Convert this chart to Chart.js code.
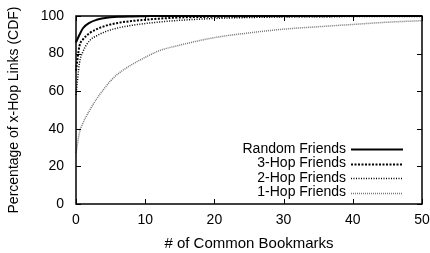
<!DOCTYPE html>
<html>
<head>
<meta charset="utf-8">
<script src="https://cdn.jsdelivr.net/npm/chart.js@4/dist/chart.umd.min.js"></script>
<style>
html,body{margin:0;padding:0;background:#fff;}
#wrap{width:430px;height:253px;position:relative;}
</style>
</head>
<body>
<div id="wrap"><canvas id="c" width="430" height="253"></canvas></div>
<script>
const xValues = [0, 0.5, 1, 2, 3, 4, 5, 6, 8, 10, 12, 15, 20, 25, 30, 35, 40, 45, 50];
const randomFriends = [86, 90, 93.5, 96.5, 98, 98.8, 99.3, 99.6, 99.8, 99.9, 100, 100, 100, 100, 100, 100, 100, 100, 100];
const hop3Friends = [71, 84, 87.5, 91, 93, 94.5, 95.5, 96.3, 97.3, 98, 98.6, 99.2, 99.6, 99.8, 99.9, 99.9, 100, 100, 100];
const hop2Friends = [58, 75, 81, 87, 89.5, 91.3, 92.6, 93.6, 95, 96, 96.8, 97.7, 98.7, 99.2, 99.5, 99.6, 99.7, 99.8, 99.8];
const hop1Friends = [27, 38, 43, 50, 56, 61, 65.5, 69, 74, 78, 81.5, 84.5, 88.5, 91, 93, 94.3, 95.5, 96.7, 97.5];
const seriesLabels = ["Random Friends", "3-Hop Friends", "2-Hop Friends", "1-Hop Friends"];
const xTicks = [0, 10, 20, 30, 40, 50];
const yTicks = [0, 20, 40, 60, 80, 100];
const xTitle = "# of Common Bookmarks";
const yTitle = "Percentage of x-Hop Links (CDF)";

const FONT = "'Liberation Sans', Arial, Helvetica, sans-serif";

function pts(ys){ return xValues.map((x,i)=>({x:x, y:ys[i]})); }

const styles = [
  {color:'#000', width:2, dash:[]},
  {color:'#000', width:2, dash:[2,1.5]},
  {color:'#000', width:1.5, dash:[1,1.5]},
  {color:'#777', width:1.5, dash:[1,1]}
];
const allSeries = [randomFriends, hop3Friends, hop2Friends, hop1Friends];

const datasets = allSeries.map((s,i)=>({
  label: seriesLabels[i],
  data: pts(s),
  borderColor: styles[i].color,
  borderWidth: styles[i].width,
  borderDash: styles[i].dash,
  pointRadius: 0,
  fill: false,
  cubicInterpolationMode: 'monotone',
  clip: false
}));

const framePlugin = {
  id: 'frame',
  afterDatasetsDraw(chart){
    const ctx = chart.ctx;
    const a = chart.chartArea;
    const xs = chart.scales.x, ys = chart.scales.y;
    ctx.save();
    ctx.setLineDash([]);
    ctx.strokeStyle = '#000';
    ctx.lineWidth = 1;
    const tl = 5;
    xTicks.forEach(v=>{
      const p = Math.round(xs.getPixelForValue(v)) + 0.5;
      ctx.beginPath();
      ctx.moveTo(p, a.bottom); ctx.lineTo(p, a.bottom - tl);
      ctx.moveTo(p, a.top); ctx.lineTo(p, a.top + tl);
      ctx.stroke();
    });
    yTicks.forEach(v=>{
      const p = Math.round(ys.getPixelForValue(v)) + 0.5;
      ctx.beginPath();
      ctx.moveTo(a.left, p); ctx.lineTo(a.left + tl, p);
      ctx.moveTo(a.right, p); ctx.lineTo(a.right - tl, p);
      ctx.stroke();
    });
    ctx.lineWidth = 1.5;
    ctx.strokeRect(a.left, a.top, a.right - a.left, a.bottom - a.top);

    // legend inside chart area
    ctx.font = '14px ' + FONT;
    ctx.textAlign = 'right';
    ctx.textBaseline = 'middle';
    const textRight = a.right - 76;
    const lineL = a.right - 71, lineR = a.right - 19;
    chart.data.datasets.forEach((d,i)=>{
      const y = a.bottom - 55 + i*14.5;
      ctx.fillStyle = '#000';
      ctx.fillText(d.label, textRight, y);
      ctx.beginPath();
      ctx.strokeStyle = d.borderColor;
      ctx.lineWidth = d.borderWidth;
      ctx.setLineDash(d.borderDash);
      ctx.moveTo(lineL, Math.round(y) + 0.5); ctx.lineTo(lineR, Math.round(y) + 0.5);
      ctx.stroke();
    });
    ctx.restore();
  }
};

new Chart(document.getElementById('c'), {
  type: 'line',
  data: { datasets },
  options: {
    responsive: false,
    animation: false,
    devicePixelRatio: 1,
    layout: { padding: { top: 16, right: 8, left: 0, bottom: 0 } },
    plugins: { legend: {display:false}, tooltip: {enabled:false} },
    scales: {
      x: {
        type: 'linear', min: 0, max: 50,
        grid: { display: false, drawTicks: false },
        border: { display: false },
        afterBuildTicks(s){ s.ticks = xTicks.map(v=>({value:v})); },
        ticks: { color:'#000', font:{family:FONT, size:14}, padding: 8, maxRotation:0, autoSkip:false },
        title: { display:true, text:xTitle, color:'#000', font:{family:FONT, size:15}, padding:{top:2.5, bottom:0} },
        afterFit(s){ s.height = 49; s.paddingLeft = 0; s.paddingRight = 0; }
      },
      y: {
        min: 0, max: 100,
        grid: { display: false, drawTicks: false },
        border: { display: false },
        afterBuildTicks(s){ s.ticks = yTicks.map(v=>({value:v})); },
        ticks: { color:'#000', font:{family:FONT, size:14}, padding: 12 },
        title: { display:true, text:yTitle, color:'#000', font:{family:FONT, size:14}, padding:{top:5.5, bottom:0} },
        afterFit(s){ s.width = 76; s.paddingTop = 0; s.paddingBottom = 0; }
      }
    }
  },
  plugins: [framePlugin]
});
</script>
</body>
</html>
